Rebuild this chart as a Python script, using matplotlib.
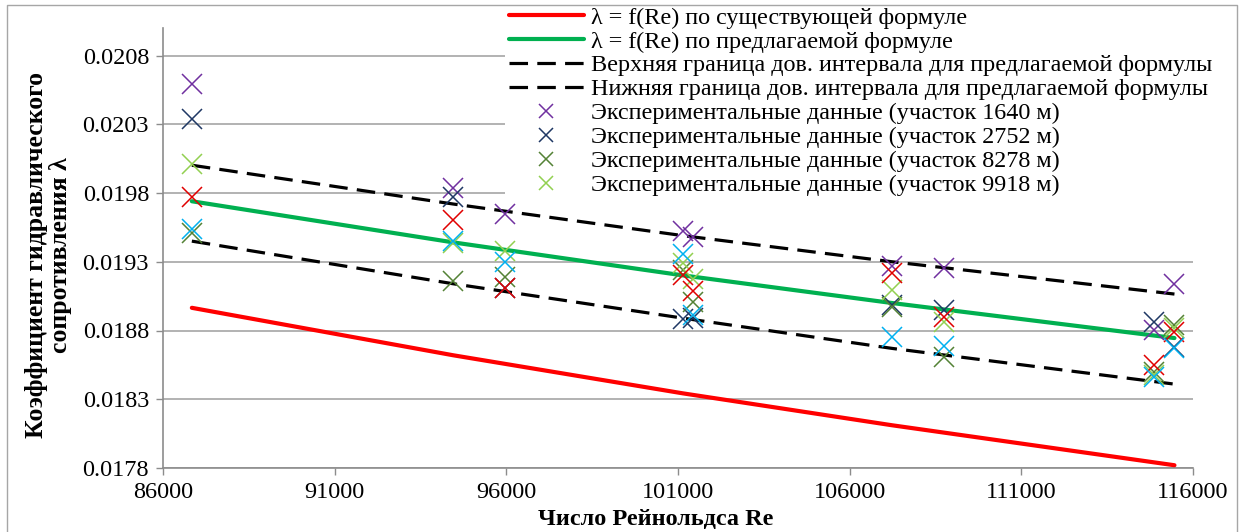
#!/usr/bin/env python
""" plot.py: lambda = f(Re) with experimental points and confidence band """

import numpy as np
import matplotlib
matplotlib.use('Agg')
import matplotlib.pyplot as plt
from matplotlib.lines import Line2D

plt.rcParams['font.family'] = ['Liberation Serif', 'DejaVu Serif']

## Reynolds numbers of the measurements
re_exp = [86840, 94450, 95970, 101140, 101430, 107230, 108760, 114850, 115460]

## Experimental lambda by section
lam_1640 = [0.020591, 0.019833, 0.019644, 0.019522, 0.019477, 0.019268, 0.019251, 0.018803, 0.019137]
lam_2752 = [0.020336, 0.019772, 0.019110, 0.018881, 0.018888, 0.018985, 0.018948, 0.018863, 0.018680]
lam_8278 = [0.019510, 0.019161, 0.019190, 0.019239, 0.019009, 0.018972, 0.018609, 0.018500, 0.018839]
lam_9918 = [0.020009, 0.019433, 0.019379, 0.019288, 0.019174, 0.019094, 0.018863, 0.018476, 0.018815]
lam_red = [0.019772, 0.019602, 0.019110, 0.019203, 0.019089, 0.019215, 0.018900, 0.018549, 0.018791]
lam_cyan = [0.019535, 0.019450, 0.019299, 0.019360, 0.018912, 0.018754, 0.018687, 0.018464, 0.018670]

## Curves
re_line = [86840, 94450, 101140, 107230, 115460]
lam_exist = [0.018965, 0.018620, 0.018343, 0.018111, 0.017820]
lam_prop = [0.019740, 0.019441, 0.019201, 0.019000, 0.018745]
lam_upper = [0.020002, 0.019720, 0.019490, 0.019300, 0.019065]
lam_lower = [0.019450, 0.019140, 0.018890, 0.018670, 0.018410]

x_ticks = [86000, 91000, 96000, 101000, 106000, 111000, 116000]
y_ticks = [0.0178, 0.0183, 0.0188, 0.0193, 0.0198, 0.0203, 0.0208]

W, H = 1241, 532
fig = plt.figure(figsize=(W / 100, H / 100), dpi=100)
ax = fig.add_axes([163 / W, 1 - 468 / H, 1030 / W, 440 / H])

## Lines
dash = (0, (5.8, 2.9))
ax.plot(re_line, lam_exist, color='#FF0000', lw=3.0, solid_capstyle='round',
        label='λ = f(Re) по существующей формуле', zorder=3)
ax.plot(re_line, lam_prop, color='#00B050', lw=3.0, solid_capstyle='round',
        label='λ = f(Re) по предлагаемой формуле', zorder=3)
ax.plot(re_line, lam_upper, color='black', lw=2.3, ls=dash,
        label='Верхняя граница дов. интервала для предлагаемой формулы', zorder=3)
ax.plot(re_line, lam_lower, color='black', lw=2.3, ls=dash,
        label='Нижняя граница дов. интервала для предлагаемой формулы', zorder=3)

## Experimental points
series = [
    (lam_1640, '#7030A0', 'Экспериментальные данные (участок 1640 м)'),
    (lam_2752, '#1F3864', 'Экспериментальные данные (участок 2752 м)'),
    (lam_8278, '#548235', 'Экспериментальные данные (участок 8278 м)'),
    (lam_9918, '#92D050', 'Экспериментальные данные (участок 9918 м)'),
    (lam_red, '#E00000', '_nolegend_'),
    (lam_cyan, '#00B0F0', '_nolegend_'),
]
for vals, col, lab in series:
    ax.plot(re_exp, vals, ls='none', marker='x', ms=14, mew=1.1,
            color=col, label=lab, zorder=4)

## Axes format
ax.set_xlim(86000, 116000)
ax.set_ylim(0.0178, 0.0210)
ax.set_xticks(x_ticks)
ax.set_yticks(y_ticks)
ax.set_xticklabels([str(v) for v in x_ticks])
ax.set_yticklabels(['%.4f' % v for v in y_ticks])
ax.tick_params(labelsize=17.5, length=5, width=1, color='#8C8C8C', pad=5)
ax.grid(True, axis='y', color='#A6A6A6', lw=1.2, zorder=0)
ax.set_axisbelow(True)
for s in ['top', 'right']:
    ax.spines[s].set_visible(False)
for s in ['left', 'bottom']:
    ax.spines[s].set_color('#8C8C8C')
    ax.spines[s].set_linewidth(1.2)

ax.set_xlabel('Число Рейнольдса Re', fontsize=17.5, fontweight='bold')
ax.xaxis.set_label_coords(0.478, -0.094)
ax.set_ylabel('Коэффициент гидравлического\nсопротивления λ', fontsize=18.5,
              fontweight='bold', linespacing=1.05)
ax.yaxis.set_label_coords(-0.088, 0.484)

## Legend (white box above the grid)
leg = ax.legend(loc='upper left', bbox_to_anchor=(505 / W, 1 - 3 / H),
                bbox_transform=fig.transFigure, fontsize=17.4, frameon=True,
                facecolor='white', edgecolor='none', framealpha=1,
                handlelength=3.1, handletextpad=0.3, labelspacing=0.085,
                borderpad=0.15, markerscale=0.75, borderaxespad=0)
leg.set_zorder(10)

## Chart border
fig.add_artist(Line2D([7 / W, 7 / W, 1237 / W, 1237 / W],
                      [0, 1 - 5 / H, 1 - 5 / H, 0],
                      transform=fig.transFigure, color='#A6A6A6', lw=1))

fig.savefig('out.png', dpi=100)
